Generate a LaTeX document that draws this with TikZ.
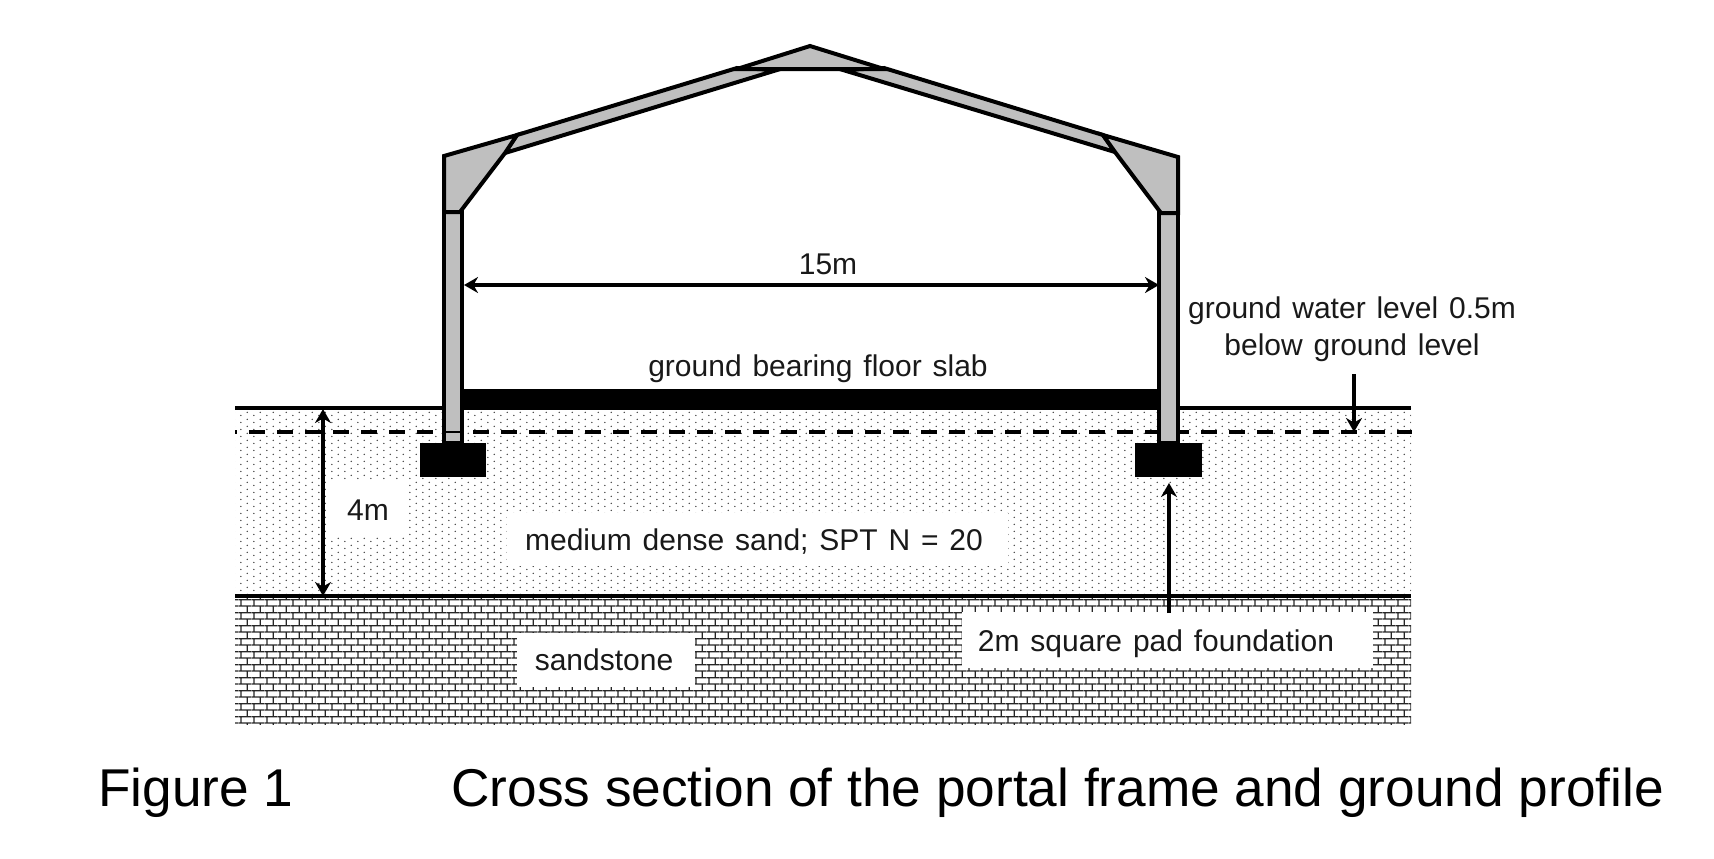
\documentclass[tikz,border=0pt]{standalone}
\usepackage{fontspec}
\setmainfont{Liberation Sans}
\newfontfamily\labelfont[WordSpace=1.3]{Liberation Sans}
\usetikzlibrary{arrows.meta,patterns}
\pgfdeclarepatternformonly{sanddots}{\pgfqpoint{0pt}{0pt}}{\pgfqpoint{6.667pt}{3.333pt}}{\pgfqpoint{6.667pt}{3.333pt}}{
    \pgfpathcircle{\pgfqpoint{1pt}{0.8pt}}{0.4pt}
    \pgfpathcircle{\pgfqpoint{4.333pt}{2.467pt}}{0.4pt}
    \pgfusepath{fill}}
\pgfdeclarepatternformonly{brickwall}{\pgfqpoint{0pt}{0pt}}{\pgfqpoint{6.667pt}{6.667pt}}{\pgfqpoint{6.667pt}{6.667pt}}{
    \pgfsetlinewidth{0.65pt}
    \pgfpathmoveto{\pgfqpoint{0pt}{1pt}}\pgfpathlineto{\pgfqpoint{6.667pt}{1pt}}
    \pgfpathmoveto{\pgfqpoint{0pt}{4.333pt}}\pgfpathlineto{\pgfqpoint{6.667pt}{4.333pt}}
    \pgfpathmoveto{\pgfqpoint{1pt}{1pt}}\pgfpathlineto{\pgfqpoint{1pt}{4.333pt}}
    \pgfpathmoveto{\pgfqpoint{4.333pt}{4.333pt}}\pgfpathlineto{\pgfqpoint{4.333pt}{6.667pt}}
    \pgfpathmoveto{\pgfqpoint{4.333pt}{0pt}}\pgfpathlineto{\pgfqpoint{4.333pt}{1pt}}
    \pgfusepath{stroke}}
\definecolor{steelgrey}{gray}{0.75}
\tikzstyle{member}=[draw, fill=steelgrey, line width=2pt, line join=miter]
\tikzstyle{stratum}=[line width=1.9pt]
\tikzstyle{dim}=[draw, line width=1.75pt, {Stealth[length=7pt,width=8pt]}-{Stealth[length=7pt,width=8pt]}]
\tikzstyle{pointer}=[draw, line width=1.75pt, -{Stealth[length=7pt,width=8pt]}]
\tikzstyle{plainlabel}=[inner sep=0pt, align=center, text=black!90, font=\labelfont\fontsize{15}{18.5}\selectfont]
\tikzstyle{caption}=[inner sep=0pt, anchor=west, font=\fontsize{26.6}{30}\selectfont]

\begin{document}
\begin{tikzpicture}[x=0.5pt,y=-0.5pt]
    \useasboundingbox (0,0) rectangle (1714,858);
    % First we draw the soil layers
    \fill[pattern=sanddots, pattern color=black!75] (235,408) rectangle (1411,596);
    \fill[pattern=brickwall, pattern color=black!85] (235,596) rectangle (1411,724);
    \draw[stratum] (235,408) -- (1411,408);
    \draw[stratum] (235,596) -- (1411,596);
    \draw[stratum, dash pattern=on 8pt off 6pt, dash phase=7pt] (235,432) -- (1412,432);

    % Slab and pads
    \fill (464,389) rectangle (1158,408);
    \fill (420,443) rectangle (486,477);
    \fill (1135,443) rectangle (1202,477);

    % Then the portal frame
    \draw[member] (444,212) -- (462,212) -- (462,443) -- (444,443) -- cycle;
    \draw[member] (1159,213) -- (1178,213) -- (1178,443) -- (1159,443) -- cycle;
    \draw[line width=1.2pt] (444,432) -- (462,432);
    \draw[member] (517,135) -- (737,68) -- (777,70) -- (505,153) -- cycle;
    \draw[member] (1103,135) -- (884,68) -- (843,70) -- (1115,152) -- cycle;
    \draw[member] (737,69) -- (810,46) -- (884,69) -- cycle;
    \draw[member] (444,156) -- (517,135) -- (505,153) -- (460,212) -- (444,212) -- cycle;
    \draw[member] (1178,157) -- (1103,135) -- (1115,152) -- (1161,213) -- (1178,213) -- cycle;

    % White patches behind the soil labels
    \foreach \from/\to in {{(330,480)/(408,537)}, {(507,513)/(1008,566)}, {(517,633)/(695,687)}, {(962,612)/(1373,668)}}
        \fill[white] \from rectangle \to;

    % Labels
    \foreach \pos/\name/\txt in {
        {(368,510)/depth/4m},
        {(754,542)/sand/medium dense sand; SPT N = 20},
        {(604,660)/rock/sandstone},
        {(1156,644)/pad/2m square pad foundation},
        {(828,264)/span/15m},
        {(818,369)/slab/ground bearing floor slab}}
        \node[plainlabel] (\name) at \pos {\txt};
    \node[plainlabel] (water) at (1352,329) {ground water level 0.5m\\below ground level};
    \node[caption] (fignum) at (98,793) {Figure 1};
    \node[caption] (figtitle) at (451,793) {Cross section of the portal frame and ground profile};

    % Connect with arrows
    \foreach \pos/\name in {{(464,285)/spanL}, {(1159,285)/spanR}, {(323,409)/depthT}, {(323,596)/depthB}, {(1169,483)/padTip}, {(1169,613)/padTail}, {(1354,374)/waterTail}, {(1354,432)/waterTip}}
        \node[coordinate] (\name) at \pos {};
    \path[dim] (spanL) -- (spanR);
    \path[dim] (depthT) -- (depthB);
    \path[pointer] (padTail) -- (padTip);
    \path[pointer] (waterTail) -- (waterTip);
\end{tikzpicture}
\end{document}
